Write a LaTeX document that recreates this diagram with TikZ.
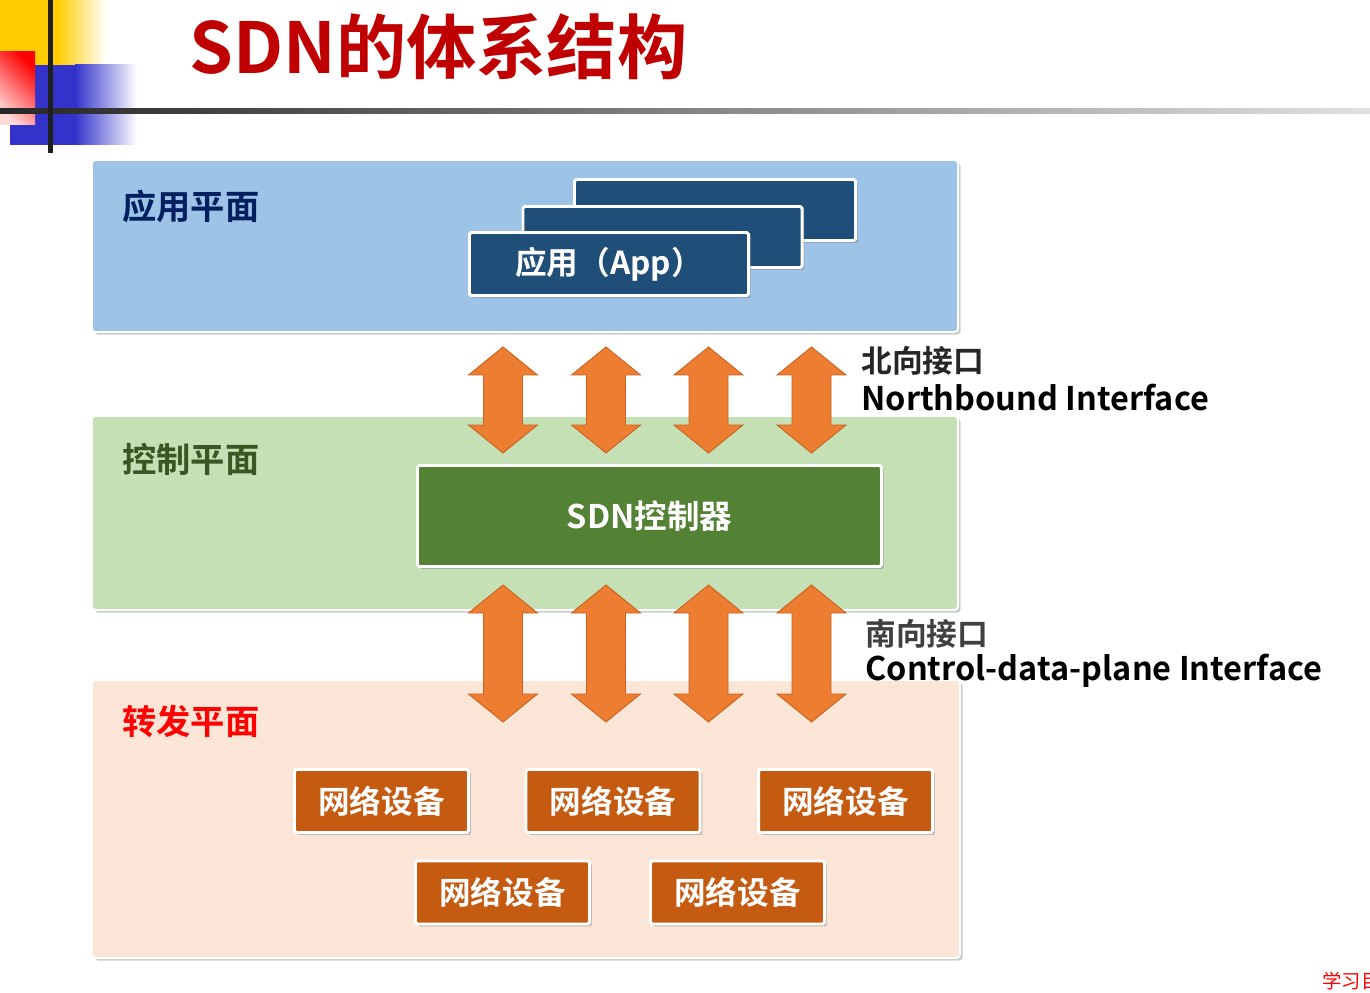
\documentclass[tikz,border=0pt]{standalone}
\usepackage{fontspec}
\setmainfont{Noto Sans CJK SC}[BoldFont={Noto Sans CJK SC Bold}]
\usetikzlibrary{shadows}

\definecolor{titlered}{HTML}{C00000}
\definecolor{appfill}{HTML}{9DC3E6}
\definecolor{ctrlfill}{HTML}{C5E0B4}
\definecolor{fwdfill}{HTML}{FBE5D6}
\definecolor{appbox}{HTML}{1F4E79}
\definecolor{ctrlbox}{HTML}{548235}
\definecolor{devbox}{HTML}{C55A11}
\definecolor{arrowfill}{HTML}{ED7D31}
\definecolor{arrowedge}{HTML}{C8621E}
\definecolor{navy}{HTML}{002060}
\definecolor{darkgreen}{HTML}{385723}
\definecolor{decoyellow}{HTML}{FFCC00}
\definecolor{decoblue}{HTML}{3333CC}

% double-headed block arrow: centre x, top y, bottom y
\newcommand\sdnarrow[3]{%
  \draw[dblarrow] (#1,#2) -- (#1+34.5,#2+28) -- (#1+19.5,#2+28)
    -- (#1+19.5,#3-28) -- (#1+34.5,#3-28) -- (#1,#3)
    -- (#1-34.5,#3-28) -- (#1-19.5,#3-28) -- (#1-19.5,#2+28)
    -- (#1-34.5,#2+28) -- cycle;}

\begin{document}
\begin{tikzpicture}[x=0.02cm,y=-0.02cm,
  txt/.style={font=\fontsize{#1pt}{#1pt}\selectfont\bfseries, inner sep=0pt},
  boxsize/.style 2 args={minimum width=#1*0.02cm, minimum height=#2*0.02cm},
  plane/.style={draw=white, line width=1pt, rounded corners=2pt,
    drop shadow={shadow xshift=1.5pt, shadow yshift=-1.5pt, opacity=0.4}},
  block/.style={draw=white, line width=1.7pt, rounded corners=1pt, text=white,
    drop shadow={shadow xshift=1.4pt, shadow yshift=-1.4pt, opacity=0.45}},
  dblarrow/.style={fill=arrowfill, draw=arrowedge, line width=0.5pt, line join=miter}]

\useasboundingbox (0,0) rectangle (1370,993);
\fill[white] (0,0) rectangle (1370,993);

% corner ornament
\fill[decoyellow] (0,0) rectangle (57,65);
\shade[left color=decoyellow, right color=white] (57,0) rectangle (106,65);
\fill[decoblue] (10,65) rectangle (75,145);
\shade[left color=decoblue, right color=white] (75,65) rectangle (137,145);
\shade[top color=red, bottom color=red!15, shading angle=-45] (0,52) rectangle (35,125);
\shade[left color=black!85, right color=black!12] (0,109) rectangle (1370,114);
\fill[black!88] (48,0) rectangle (53,153);

% title
\node[txt=40, text=titlered, anchor=base west] (title) at (189,74) {SDN的体系结构};

% planes
\node[plane, fill=appfill, boxsize={866}{172}] (appplane) at (525,246) {};
\node[plane, fill=ctrlfill, boxsize={866}{194}] (ctrlplane) at (525,513) {};
\node[plane, fill=fwdfill, boxsize={868}{278}] (fwdplane) at (526,819) {};

\node[txt=19.5, text=navy, anchor=west] (applabel) at (122,206) {应用平面};
\node[txt=19.5, text=darkgreen, anchor=west] (ctrllabel) at (122,459) {控制平面};
\node[txt=19.5, text=red, anchor=west] (fwdlabel) at (122,721) {转发平面};

% applications
\node[block, fill=appbox, boxsize={281}{61}] (app3) at (715,210) {};
\node[block, fill=appbox, boxsize={279}{61}] (app2) at (662.5,237) {};
\node[block, fill=appbox, boxsize={279}{63}] (app1) at (609,264) {};
\node[txt=18, text=white] (apptext) at (app1.center) {应用（App）};

% controller
\node[block, fill=ctrlbox, boxsize={464}{101}, txt=18.5] (controller) at (649.5,516) {SDN控制器};

% forwarding devices
\node[block, fill=devbox, boxsize={174}{63}, txt=18] (dev1) at (381.5,801) {网络设备};
\node[block, fill=devbox, boxsize={174}{63}, txt=18] (dev2) at (613,801) {网络设备};
\node[block, fill=devbox, boxsize={174}{63}, txt=18] (dev3) at (845.5,801) {网络设备};
\node[block, fill=devbox, boxsize={174}{63}, txt=18] (dev4) at (502.5,892.5) {网络设备};
\node[block, fill=devbox, boxsize={174}{63}, txt=18] (dev5) at (737.5,892.5) {网络设备};

% northbound and southbound interfaces
\sdnarrow{503}{347}{453}
\sdnarrow{606}{347}{453}
\sdnarrow{708.5}{347}{453}
\sdnarrow{811.5}{347}{453}
\sdnarrow{503}{585}{722}
\sdnarrow{606}{585}{722}
\sdnarrow{708.5}{585}{722}
\sdnarrow{811.5}{585}{722}

\node[txt=17.5, text=black!85, anchor=west] (nbcn) at (861,361) {北向接口};
\node[txt=18.5, text=black, anchor=west] (nben) at (861,398) {Northbound Interface};
\node[txt=17.5, text=black!75, anchor=west] (sbcn) at (865,634) {南向接口};
\node[txt=18.5, text=black, anchor=west] (sben) at (865,671) {Control-data-plane Interface};

% page footer
\node[font=\fontsize{11pt}{11pt}\selectfont, text=red, anchor=west, inner sep=0pt] (footer) at (1322,981) {学习目标};
\end{tikzpicture}
\end{document}
